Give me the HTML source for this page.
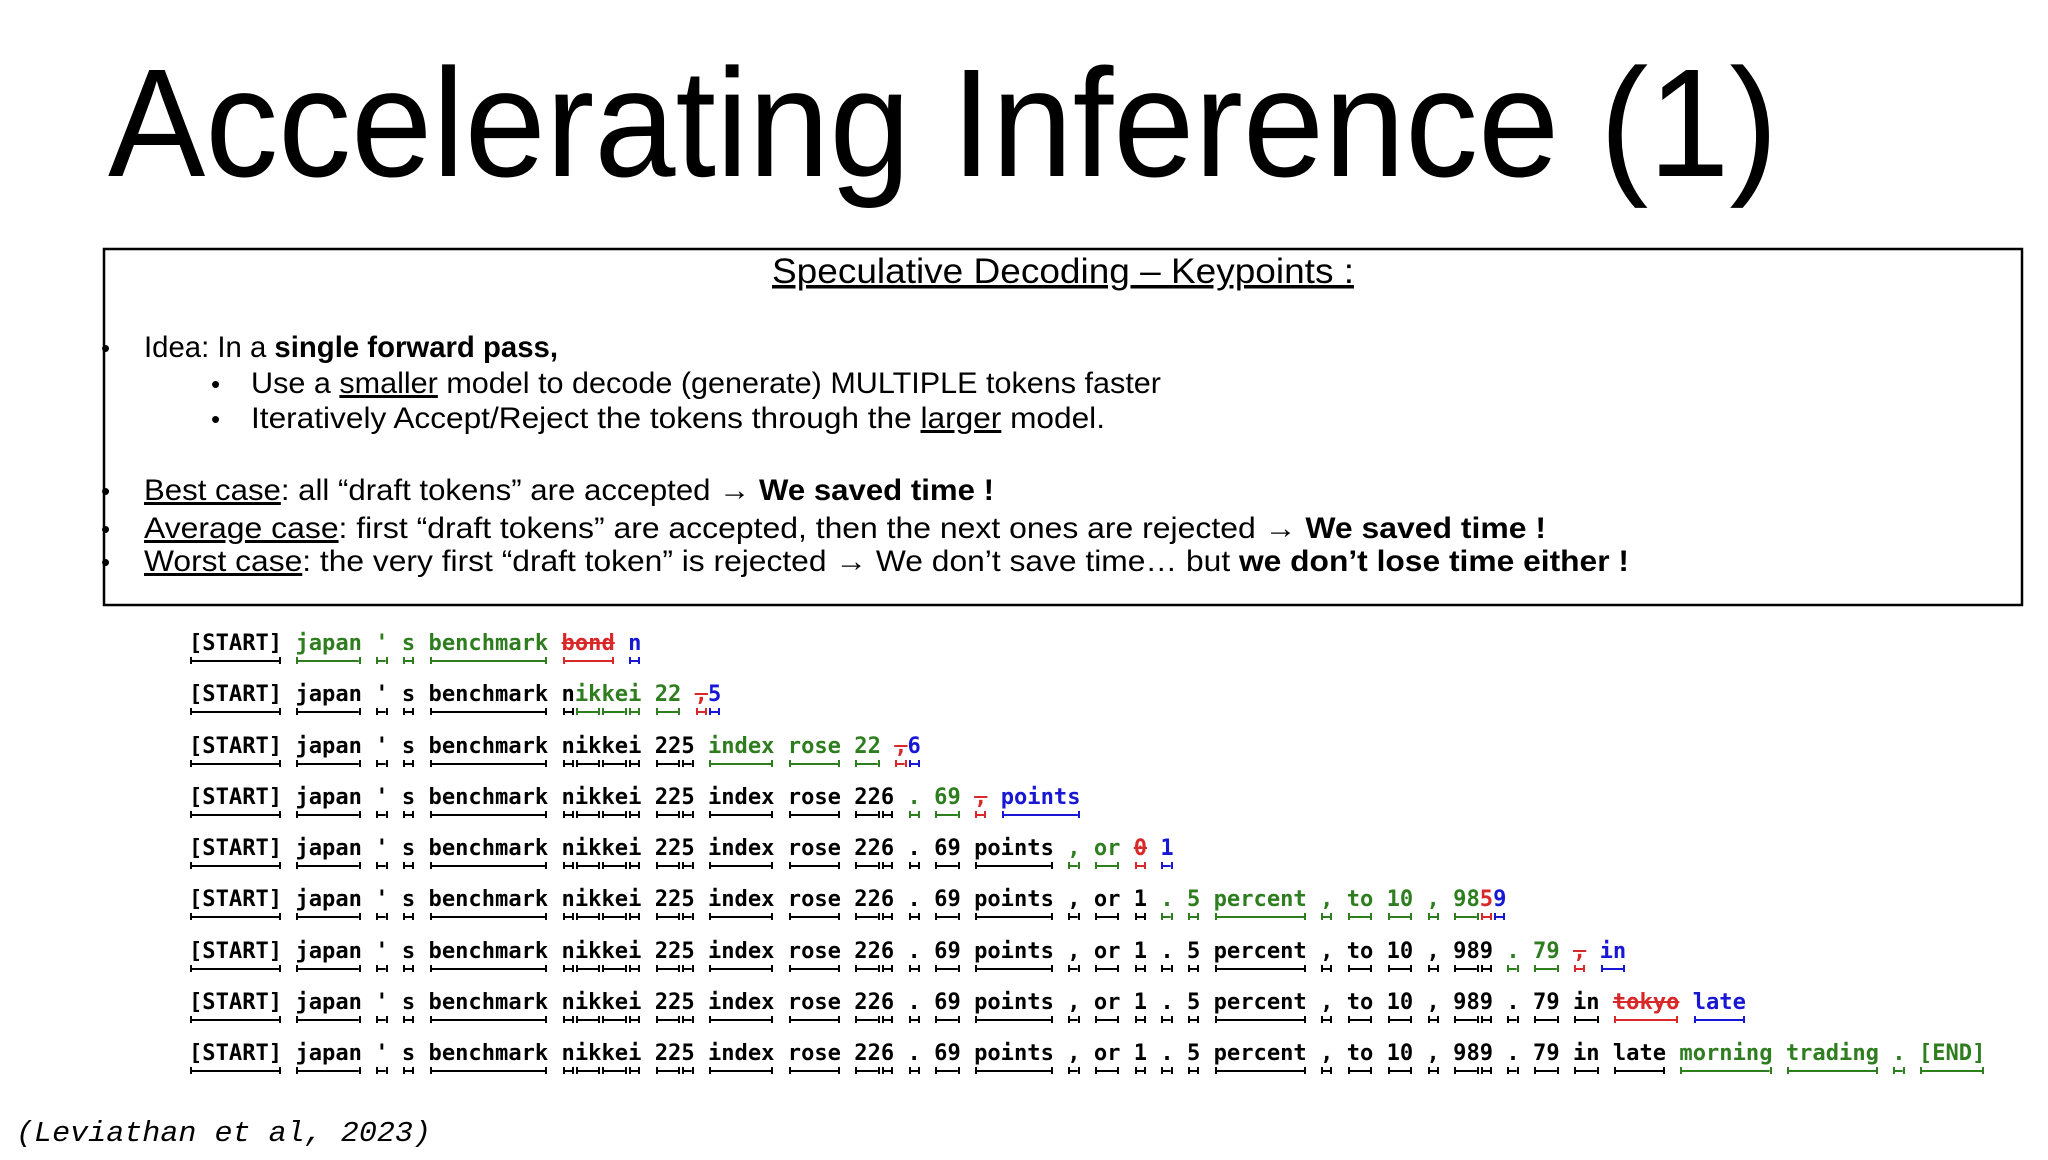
<!DOCTYPE html>
<html><head><meta charset="utf-8"><style>
html,body{margin:0;padding:0;background:#fff}
body{width:2048px;height:1160px;position:relative;overflow:hidden}
svg.top{position:absolute;left:0;top:0}
.row{position:absolute;left:189px;height:30px;line-height:30px;font-family:"DejaVu Sans Mono","Liberation Mono",monospace;font-weight:bold;font-size:22.1px;color:#000;white-space:pre}
.row i{font-style:normal;position:relative}
.row i::after{content:"";position:absolute;left:1px;right:1px;bottom:-8px;height:7px;box-sizing:border-box;border-left:2px solid currentColor;border-right:2px solid currentColor;background:linear-gradient(currentColor,currentColor) center/100% 2px no-repeat}
.row i.g{color:#2e7d1f}
.row i.r{color:#d9282a;text-decoration:line-through;text-decoration-thickness:2px}
.row i.b{color:#1717d4}
</style></head><body>
<svg class="top" width="2048" height="1160" xmlns="http://www.w3.org/2000/svg">
<text x="108" y="176" font-family="Liberation Sans, sans-serif" font-size="154" textLength="1670" lengthAdjust="spacingAndGlyphs" fill="#000">Accelerating Inference (1)</text>
<rect x="104" y="249" width="1918" height="356" fill="none" stroke="#000" stroke-width="2.5"/>
<g font-family="Liberation Sans, sans-serif" fill="#000">
<text x="772" y="283" font-size="35" textLength="582" lengthAdjust="spacingAndGlyphs" text-decoration="underline">Speculative Decoding – Keypoints :</text>
<text x="101" y="357" font-size="26">•</text>
<text x="144" y="357" font-size="30" textLength="414" lengthAdjust="spacingAndGlyphs">Idea: In a <tspan font-weight="bold">single forward pass,</tspan></text>
<text x="211" y="393" font-size="26">•</text>
<text x="251" y="393" font-size="30" textLength="910" lengthAdjust="spacingAndGlyphs">Use a <tspan text-decoration="underline">smaller</tspan> model to decode (generate) MULTIPLE tokens faster</text>
<text x="211" y="428" font-size="26">•</text>
<text x="251" y="428" font-size="30" textLength="854" lengthAdjust="spacingAndGlyphs">Iteratively Accept/Reject the tokens through the <tspan text-decoration="underline">larger</tspan> model.</text>
<text x="101" y="500" font-size="26">•</text>
<text x="144" y="500" font-size="30" textLength="850" lengthAdjust="spacingAndGlyphs"><tspan text-decoration="underline">Best case</tspan>: all “draft tokens” are accepted → <tspan font-weight="bold">We saved time !</tspan></text>
<text x="101" y="538" font-size="26">•</text>
<text x="144" y="538" font-size="30" textLength="1402" lengthAdjust="spacingAndGlyphs"><tspan text-decoration="underline">Average case</tspan>: first “draft tokens” are accepted, then the next ones are rejected → <tspan font-weight="bold">We saved time !</tspan></text>
<text x="101" y="571" font-size="26">•</text>
<text x="144" y="571" font-size="30" textLength="1485" lengthAdjust="spacingAndGlyphs"><tspan text-decoration="underline">Worst case</tspan>: the very first “draft token” is rejected → We don’t save time… but <tspan font-weight="bold">we don’t lose time either !</tspan></text>
</g>
<text x="16" y="1141" font-family="Liberation Mono, monospace" font-style="italic" font-size="29" textLength="415" lengthAdjust="spacingAndGlyphs">(Leviathan et al, 2023)</text>
</svg>

<div class="row" style="top:628px"><i>[START]</i> <i class="g">japan</i> <i class="g">'</i> <i class="g">s</i> <i class="g">benchmark</i> <i class="r">bond</i> <i class="b">n</i></div>

<div class="row" style="top:679px"><i>[START]</i> <i>japan</i> <i>'</i> <i>s</i> <i>benchmark</i> <i>n</i><i class="g">ik</i><i class="g">ke</i><i class="g">i</i> <i class="g">22</i> <i class="r">,</i><i class="b">5</i></div>

<div class="row" style="top:731px"><i>[START]</i> <i>japan</i> <i>'</i> <i>s</i> <i>benchmark</i> <i>n</i><i>ik</i><i>ke</i><i>i</i> <i>22</i><i>5</i> <i class="g">index</i> <i class="g">rose</i> <i class="g">22</i> <i class="r">,</i><i class="b">6</i></div>

<div class="row" style="top:782px"><i>[START]</i> <i>japan</i> <i>'</i> <i>s</i> <i>benchmark</i> <i>n</i><i>ik</i><i>ke</i><i>i</i> <i>22</i><i>5</i> <i>index</i> <i>rose</i> <i>22</i><i>6</i> <i class="g">.</i> <i class="g">69</i> <i class="r">,</i> <i class="b">points</i></div>

<div class="row" style="top:833px"><i>[START]</i> <i>japan</i> <i>'</i> <i>s</i> <i>benchmark</i> <i>n</i><i>ik</i><i>ke</i><i>i</i> <i>22</i><i>5</i> <i>index</i> <i>rose</i> <i>22</i><i>6</i> <i>.</i> <i>69</i> <i>points</i> <i class="g">,</i> <i class="g">or</i> <i class="r">0</i> <i class="b">1</i></div>

<div class="row" style="top:884px"><i>[START]</i> <i>japan</i> <i>'</i> <i>s</i> <i>benchmark</i> <i>n</i><i>ik</i><i>ke</i><i>i</i> <i>22</i><i>5</i> <i>index</i> <i>rose</i> <i>22</i><i>6</i> <i>.</i> <i>69</i> <i>points</i> <i>,</i> <i>or</i> <i>1</i> <i class="g">.</i> <i class="g">5</i> <i class="g">percent</i> <i class="g">,</i> <i class="g">to</i> <i class="g">10</i> <i class="g">,</i> <i class="g">98</i><i class="r" style="text-decoration:none">5</i><i class="b">9</i></div>

<div class="row" style="top:936px"><i>[START]</i> <i>japan</i> <i>'</i> <i>s</i> <i>benchmark</i> <i>n</i><i>ik</i><i>ke</i><i>i</i> <i>22</i><i>5</i> <i>index</i> <i>rose</i> <i>22</i><i>6</i> <i>.</i> <i>69</i> <i>points</i> <i>,</i> <i>or</i> <i>1</i> <i>.</i> <i>5</i> <i>percent</i> <i>,</i> <i>to</i> <i>10</i> <i>,</i> <i>98</i><i>9</i> <i class="g">.</i> <i class="g">79</i> <i class="r">,</i> <i class="b">in</i></div>

<div class="row" style="top:987px"><i>[START]</i> <i>japan</i> <i>'</i> <i>s</i> <i>benchmark</i> <i>n</i><i>ik</i><i>ke</i><i>i</i> <i>22</i><i>5</i> <i>index</i> <i>rose</i> <i>22</i><i>6</i> <i>.</i> <i>69</i> <i>points</i> <i>,</i> <i>or</i> <i>1</i> <i>.</i> <i>5</i> <i>percent</i> <i>,</i> <i>to</i> <i>10</i> <i>,</i> <i>98</i><i>9</i> <i>.</i> <i>79</i> <i>in</i> <i class="r">tokyo</i> <i class="b">late</i></div>

<div class="row" style="top:1038px"><i>[START]</i> <i>japan</i> <i>'</i> <i>s</i> <i>benchmark</i> <i>n</i><i>ik</i><i>ke</i><i>i</i> <i>22</i><i>5</i> <i>index</i> <i>rose</i> <i>22</i><i>6</i> <i>.</i> <i>69</i> <i>points</i> <i>,</i> <i>or</i> <i>1</i> <i>.</i> <i>5</i> <i>percent</i> <i>,</i> <i>to</i> <i>10</i> <i>,</i> <i>98</i><i>9</i> <i>.</i> <i>79</i> <i>in</i> <i>late</i> <i class="g">morning</i> <i class="g">trading</i> <i class="g">.</i> <i class="g">[END]</i></div>
</body></html>
